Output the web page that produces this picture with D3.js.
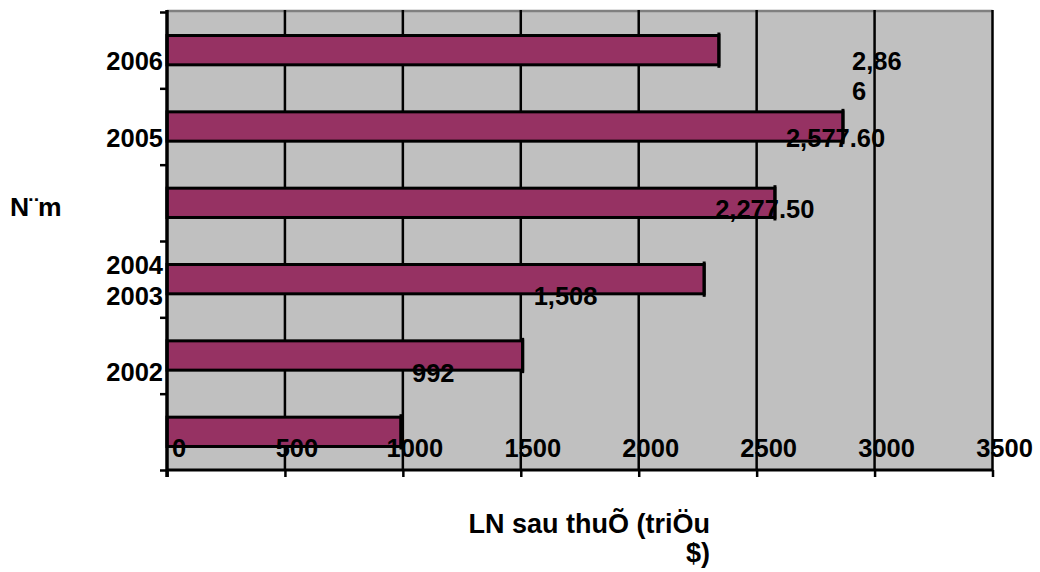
<!DOCTYPE html>
<html>
<head>
<meta charset="utf-8">
<script src="https://cdn.jsdelivr.net/npm/d3@7"></script>
<style>
  html, body { margin: 0; padding: 0; background: #fff; }
  svg { display: block; }
  text { font-family: "Liberation Sans", Arial, sans-serif; font-weight: bold; fill: #000; }
</style>
</head>
<body>
<svg id="chart" width="1040" height="572"></svg>
<script>
// Profit after tax, one bar per row from top to bottom
const barRows = ["r1", "r2", "r3", "r4", "r5", "r6"];
const profitValues = [2340, 2866, 2577.6, 2277.5, 1508, 992];
const labelledRows = [false, true, true, true, true, true];
const yearLabels = ["2006", "2005", "2004", "2003", "2002"];
const xTickValues = [0, 500, 1000, 1500, 2000, 2500, 3000, 3500];

// Layout helpers
const yearLabelSlots = [0.64, 1.65, 3.32, 3.72, 4.72];
const labelLift = [0, 42, 41, 47, 36, 35];

const plot = { left: 167, right: 992.5, top: 12, bottom: 470 };
const fontSize = 25.5;
const titleSize = 27;

const svg = d3.select("#chart");

const x = d3.scaleLinear().domain([0, 3500]).range([plot.left, plot.right]);
const y = d3.scaleBand().domain(barRows).range([plot.top, plot.bottom])
  .paddingInner(0.616).paddingOuter(0.308);
const slot = d3.scaleLinear().domain([0, 6]).range([plot.top, plot.bottom]);

// plot background
svg.append("rect")
  .attr("x", plot.left).attr("y", plot.top)
  .attr("width", plot.right - plot.left).attr("height", plot.bottom - plot.top)
  .attr("fill", "#c0c0c0");

// top border
svg.append("line")
  .attr("x1", plot.left).attr("x2", plot.right)
  .attr("y1", plot.top - 1).attr("y2", plot.top - 1)
  .attr("stroke", "#808080").attr("stroke-width", 2.5);

// vertical gridlines
svg.append("g").selectAll("line")
  .data(xTickValues.slice(1))
  .join("line")
  .attr("x1", d => x(d)).attr("x2", d => x(d))
  .attr("y1", plot.top - 2).attr("y2", plot.bottom)
  .attr("stroke", "#000").attr("stroke-width", 2.5);

// bars
svg.append("g").selectAll("rect")
  .data(profitValues)
  .join("rect")
  .attr("x", x(0))
  .attr("y", (d, i) => y(barRows[i]))
  .attr("width", d => x(d) - x(0))
  .attr("height", y.bandwidth())
  .attr("fill", "#963263")
  .attr("stroke", "#000")
  .attr("stroke-width", 3);

// bar-end caps
svg.append("g").selectAll("line")
  .data(profitValues)
  .join("line")
  .attr("x1", d => x(d)).attr("x2", d => x(d))
  .attr("y1", (d, i) => y(barRows[i]) - 3)
  .attr("y2", (d, i) => y(barRows[i]) + y.bandwidth() + 3)
  .attr("stroke", "#000").attr("stroke-width", 3);

// bottom axis
const xAxis = d3.axisBottom(x).tickValues(xTickValues).tickSize(7).tickFormat("");
const gx = svg.append("g").attr("transform", `translate(0,${plot.bottom})`).call(xAxis);
gx.select(".domain").attr("stroke", "#000").attr("stroke-width", 3).attr("d", `M${plot.left},0H${plot.right}`);
gx.selectAll(".tick line").attr("stroke", "#000").attr("stroke-width", 2.5);

// x tick labels sit inside the plot area
svg.append("g").selectAll("text")
  .data(xTickValues)
  .join("text")
  .attr("x", d => x(d) + 12)
  .attr("y", 456.5)
  .attr("text-anchor", "middle")
  .attr("font-size", fontSize)
  .text(d => d);

// left axis
const yAxis = d3.axisLeft(slot).tickValues(d3.range(0, 7)).tickSize(7).tickFormat("");
const gy = svg.append("g").attr("transform", `translate(${plot.left},0)`).call(yAxis);
gy.select(".domain").attr("stroke", "#000").attr("stroke-width", 3.5)
  .attr("d", `M0,${plot.top - 2}V${plot.bottom + 7}`);
gy.selectAll(".tick line").attr("stroke", "#000").attr("stroke-width", 2.5);

// year labels
svg.append("g").selectAll("text")
  .data(yearLabels)
  .join("text")
  .attr("x", 163)
  .attr("y", (d, i) => slot(yearLabelSlots[i]) + 9)
  .attr("text-anchor", "end")
  .attr("font-size", fontSize)
  .text(d => d);

// value labels
const fmt = v => Number.isInteger(v) ? d3.format(",")(v) : d3.format(",.2f")(v);
const labels = svg.append("g");
profitValues.forEach((v, i) => {
  if (!labelledRows[i]) return;
  const t = labels.append("text")
    .attr("x", x(v) + 11)
    .attr("y", y(barRows[i]) - labelLift[i])
    .attr("font-size", fontSize);
  const s = fmt(v);
  if (i === 1) {
    // narrow label box wraps the last digit
    t.append("tspan").attr("x", x(v) + 9).text(s.slice(0, -1));
    t.append("tspan").attr("x", x(v) + 9).attr("dy", 30).text(s.slice(-1));
  } else {
    t.text(s);
  }
});

// axis titles
svg.append("text")
  .attr("x", 10).attr("y", 216)
  .attr("font-size", 26.5)
  .text("N¨m");

const xt = svg.append("text").attr("text-anchor", "end").attr("font-size", titleSize);
xt.append("tspan").attr("x", 710).attr("y", 533).text("LN sau thuÕ (triÖu");
xt.append("tspan").attr("x", 710).attr("y", 562).text("$)");
</script>
</body>
</html>
